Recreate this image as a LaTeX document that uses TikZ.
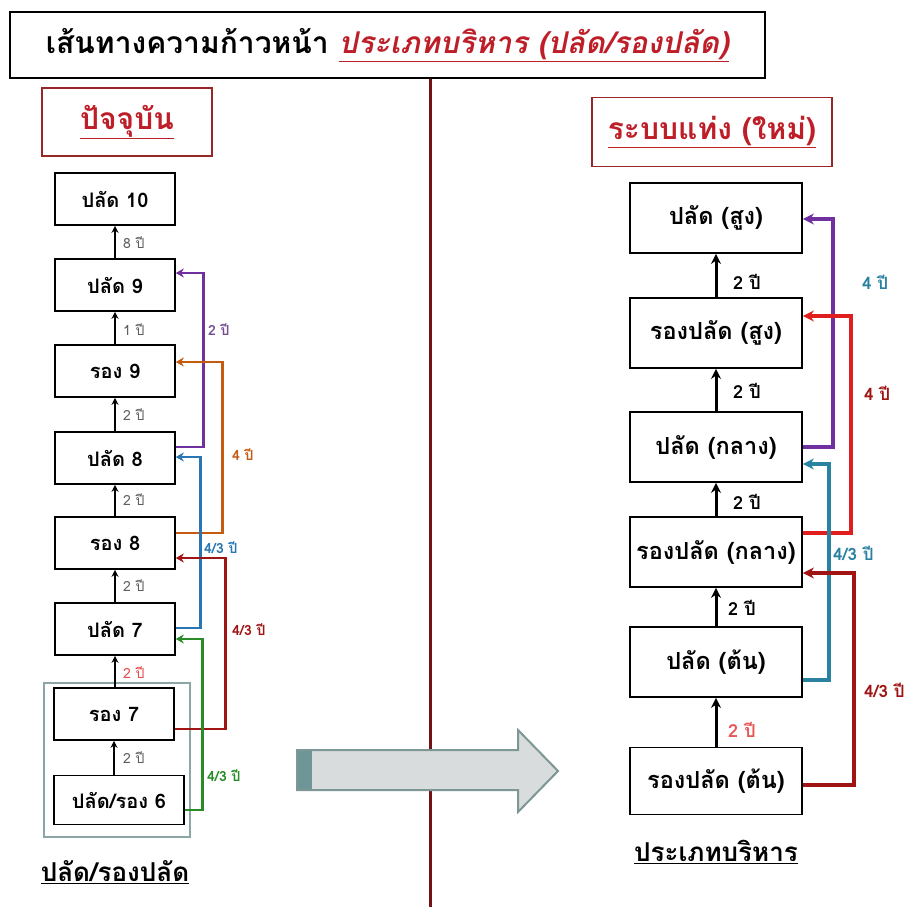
\documentclass[tikz,border=0pt]{standalone}
\usepackage{fontspec}
\newfontfamily\thai[Script=Thai]{Loma}
\newfontfamily\thaisl[Script=Thai,FakeSlant=0.2]{Loma}
\usetikzlibrary{arrows.meta,calc}
\definecolor{titlered}{RGB}{190,30,40}
\definecolor{hdrred}{RGB}{150,40,40}
\definecolor{vline}{RGB}{115,20,20}
\definecolor{cpurple}{RGB}{112,48,160}
\definecolor{corange}{RGB}{197,90,17}
\definecolor{cblue}{RGB}{40,118,180}
\definecolor{cdred}{RGB}{160,20,20}
\definecolor{cred}{RGB}{225,30,30}
\definecolor{cgreen}{RGB}{40,140,40}
\definecolor{cteal}{RGB}{40,130,160}
\definecolor{lblgray}{RGB}{95,95,95}
\definecolor{boxgray}{RGB}{140,165,165}
\definecolor{arrfill}{RGB}{217,220,220}
\definecolor{arrdraw}{RGB}{125,150,150}
\definecolor{arrstripe}{RGB}{110,150,150}
\begin{document}
\begin{tikzpicture}[x=1pt,y=-1pt,
  lbox/.style={draw=black,line width=1.6pt,fill=white,minimum width=120pt,minimum height=52pt,inner sep=0pt,
    font=\thai\bfseries\fontsize{20}{22}\selectfont},
  rbox/.style={draw=black,line width=1.8pt,fill=white,minimum width=172pt,minimum height=70pt,inner sep=0pt,
    font=\thai\bfseries\fontsize{23.5}{26}\selectfont},
  hdr/.style={draw=hdrred,line width=1.4pt,fill=white,inner sep=0pt,text=titlered,
    font=\thai\bfseries\fontsize{30}{34}\selectfont},
  lup/.style={-{Stealth[length=7pt,width=7pt]},line width=1.5pt,black},
  rup/.style={-{Stealth[length=10pt,width=10pt]},line width=3pt,black},
  lconn/.style={-{Stealth[length=8pt,width=9pt]},line width=2.8pt},
  rconn/.style={-{Stealth[length=11pt,width=11pt]},line width=3.5pt},
  llbl/.style={anchor=west,inner sep=0pt,font=\thai\fontsize{14}{16}\selectfont,text=lblgray},
  clbl/.style={anchor=west,inner sep=0pt,font=\thai\bfseries\fontsize{14}{16}\selectfont},
  rlbl/.style={anchor=west,inner sep=0pt,font=\thai\bfseries\fontsize{18}{20}\selectfont},
  crlbl/.style={anchor=west,inner sep=0pt,font=\thai\bfseries\fontsize{17}{19}\selectfont},
  capt/.style={inner sep=0pt,font=\thai\bfseries\fontsize{26}{30}\selectfont}
]
\useasboundingbox (0,0) rectangle (917,907);
\fill[white] (0,0) rectangle (917,907);

% divider
\coordinate (vtop) at (430,78);
\coordinate (vbot) at (430,907);
\draw[vline,line width=3pt] (vtop) -- (vbot);

% title
\node[draw=black,line width=2pt,fill=white,minimum width=755pt,minimum height=66pt,inner sep=0pt,
  font=\thai\bfseries\fontsize{30}{34}\selectfont] (title) at (387.5,45)
  {เส้นทางความก้าวหน้า \textcolor{titlered}{\thaisl\bfseries\underline{ประเภทบริหาร (ปลัด/รองปลัด)}}};

% headers
\node[hdr,minimum width=170pt,minimum height=68pt] (hl) at (127,122) {\underline{ปัจจุบัน}};
\node[hdr,minimum width=240pt,minimum height=69pt] (hr) at (712,132) {\underline{ระบบแท่ง (ใหม่)}};

% left group box
\node[draw=boxgray,line width=2.5pt,minimum width=146pt,minimum height=154pt,inner sep=0pt] (grp) at (117,760) {};

% left nodes
\node[lbox] (l10) at (115,199) {ปลัด 10};
\node[lbox] (l9)  at (115,285) {ปลัด 9};
\node[lbox] (r9)  at (115,371) {รอง 9};
\node[lbox] (l8)  at (115,458) {ปลัด 8};
\node[lbox] (r8)  at (115,543) {รอง 8};
\node[lbox] (l7)  at (115,629) {ปลัด 7};
\node[lbox] (r7)  at (114,714) {รอง 7};
\node[lbox,minimum width=130pt,minimum height=49pt] (l6) at (119,800) {ปลัด/รอง 6};

\node[capt] (lcap) at (115,872) {\underline{ปลัด/รองปลัด}};

% left vertical arrows
\draw[lup] (l9.north -| l10) -- (l10.south);
\draw[lup] (r9.north) -- (l9.south);
\draw[lup] (l8.north) -- (r9.south);
\draw[lup] (r8.north) -- (l8.south);
\draw[lup] (l7.north) -- (r8.south);
\draw[lup] (r7.north -| l7) -- (l7.south);
\draw[lup] (l6.north -| r7) -- (r7.south);

\node[llbl] (a1) at (123,243) {8 ปี};
\node[llbl] (a2) at (123,330) {1 ปี};
\node[llbl] (a3) at (123,415) {2 ปี};
\node[llbl] (a4) at (123,500) {2 ปี};
\node[llbl] (a5) at (123,586) {2 ปี};
\node[llbl,text=cred!80!white] (a6) at (123,673) {2 ปี};
\node[llbl] (a7) at (123,758) {2 ปี};

% left coloured connectors
\draw[lconn,cpurple] ($(l8.east)+(0,-11)$) -- ++(28,0) |- ($(l9.east)+(0,-12)$);
\draw[lconn,corange] ($(r8.east)+(0,-10)$) -- ++(47,0) |- ($(r9.east)+(0,-9)$);
\draw[lconn,cblue] ($(l7.east)+(0,-1)$) -- ++(25,0) |- ($(l8.east)+(0,-1)$);
\draw[lconn,cdred] ($(r7.east)+(0,15)$) -- ++(51,0) |- ($(r8.east)+(0,15)$);
\draw[lconn,cgreen] ($(l6.east)+(0,10)$) -- ++(18,0) |- ($(l7.east)+(0,10)$);

\node[clbl,text=cpurple!60!gray] (b1) at (208,330) {2 ปี};
\node[clbl,text=corange] (b2) at (232,455) {4 ปี};
\node[clbl,text=cblue] (b3) at (204,548) {4/3 ปี};
\node[clbl,text=cdred] (b4) at (232,630) {4/3 ปี};
\node[clbl,text=cgreen] (b5) at (207,776) {4/3 ปี};

% big arrow
\fill[arrfill] (297,750) -- (518,750) -- (518,730) -- (558,771) -- (518,812) -- (518,790) -- (297,790) -- cycle;
\fill[arrstripe] (297,750) rectangle (312,790);
\draw[arrdraw,line width=2pt,line join=miter] (297,750) -- (518,750) -- (518,730) -- (558,771) -- (518,812) -- (518,790) -- (297,790) -- cycle;

% right nodes
\node[rbox] (h)  at (716,218) {ปลัด (สูง)};
\node[rbox] (rh) at (716,333) {รองปลัด (สูง)};
\node[rbox] (m)  at (716,447) {ปลัด (กลาง)};
\node[rbox] (rm) at (716,552) {รองปลัด (กลาง)};
\node[rbox] (e)  at (716,662) {ปลัด (ต้น)};
\node[rbox,minimum height=67pt] (re) at (716,781) {รองปลัด (ต้น)};

\node[capt] (rcap) at (716,852) {\underline{ประเภทบริหาร}};

% right vertical arrows
\draw[rup] (rh.north) -- (h.south);
\draw[rup] (m.north) -- (rh.south);
\draw[rup] (rm.north) -- (m.south);
\draw[rup] (e.north) -- (rm.south);
\draw[rup] (re.north) -- (e.south);

\node[rlbl] (c1) at (733,282) {2 ปี};
\node[rlbl] (c2) at (733,391) {2 ปี};
\node[rlbl] (c3) at (733,502) {2 ปี};
\node[rlbl] (c4) at (728,608) {2 ปี};
\node[rlbl,text=cred!75!white] (c5) at (728,730) {2 ปี};

% right coloured connectors
\draw[rconn,cpurple] ($(m.east)+(0,0)$) -- ++(30,0) |- ($(h.east)+(0,1)$);
\draw[rconn,cred] ($(rm.east)+(0,-19)$) -- ++(48,0) |- ($(rh.east)+(0,-17)$);
\draw[rconn,cteal] ($(e.east)+(0,18)$) -- ++(26,0) |- ($(m.east)+(0,17)$);
\draw[rconn,cdred] ($(re.east)+(0,4)$) -- ++(51,0) |- ($(rm.east)+(0,21)$);

\node[crlbl,text=cteal] (d1) at (862,282) {4 ปี};
\node[crlbl,text=cdred] (d2) at (864,393) {4 ปี};
\node[crlbl,text=cteal] (d3) at (833,553) {4/3 ปี};
\node[crlbl,text=cdred] (d4) at (864,690) {4/3 ปี};
\end{tikzpicture}
\end{document}
